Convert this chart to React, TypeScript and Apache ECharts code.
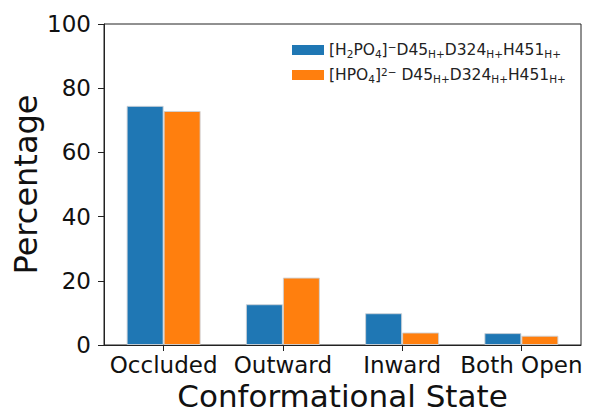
import React, { useEffect, useRef } from "react";
import * as echarts from "echarts";

const categories = ["Occluded", "Outward", "Inward", "Both Open"];
const seriesNames = ["H2PO4", "HPO4"];
const h2po4Values = [74.5, 12.7, 9.9, 3.7];
const hpo4Values = [72.9, 21.0, 3.9, 2.9];
const yTicks = { min: 0, max: 100, interval: 20 };

const legendLabels: Record<string, string> = {
  H2PO4: "[H{sub|2}PO{sub|4}]{sup|−}D45{sub|H+}D324{sub|H+}H451{sub|H+}",
  HPO4: "[HPO{sub|4}]{sup|2−} D45{sub|H+}D324{sub|H+}H451{sub|H+}",
};

const FONT = "DejaVu Sans";

export default function App() {
  const ref = useRef<HTMLDivElement>(null);
  useEffect(() => {
    if (!ref.current) return;
    const chart = echarts.init(ref.current, undefined, { renderer: "svg" });
    const barStyle = (color: string) => ({
      color,
      borderColor: "rgba(205,210,215,0.9)",
      borderWidth: 1,
    });
    chart.setOption({
      animation: false,
      textStyle: { fontFamily: FONT },
      grid: {
        left: 104,
        right: 9,
        top: 24,
        bottom: 67,
        containLabel: false,
        outerBoundsMode: "none",
        show: true,
        borderColor: "#222",
        borderWidth: 1,
        backgroundColor: "transparent",
      },
      legend: {
        orient: "vertical",
        left: 287,
        top: 36,
        itemWidth: 32,
        itemHeight: 10,
        itemGap: 7,
        itemStyle: { borderWidth: 0 },
        icon: "rect",
        data: seriesNames,
        formatter: (name: string) => legendLabels[name],
        textStyle: {
          fontFamily: FONT,
          fontSize: 15.5,
          color: "#222",
          lineHeight: 18,
          rich: {
            sub: { fontSize: 10.5, fontFamily: FONT, color: "#222", verticalAlign: "bottom", lineHeight: 18 },
            sup: { fontSize: 10.5, fontFamily: FONT, color: "#222", verticalAlign: "top", lineHeight: 18 },
          },
        },
      },
      xAxis: {
        type: "category",
        data: categories,
        axisLine: { show: true, lineStyle: { color: "#222", width: 1 } },
        axisTick: { show: true, alignWithLabel: true, length: 6, lineStyle: { color: "#222" } },
        axisLabel: { fontSize: 23, color: "#111", margin: 8, fontFamily: FONT, interval: 0 },
        name: "Conformational State",
        nameLocation: "middle",
        nameGap: 39,
        nameMoveOverlap: false,
        nameTextStyle: { fontSize: 31, lineHeight: 24, color: "#111", fontFamily: FONT },
      },
      yAxis: {
        type: "value",
        min: yTicks.min,
        max: yTicks.max,
        interval: yTicks.interval,
        splitLine: { show: false },
        axisLine: { show: true, lineStyle: { color: "#222", width: 1 } },
        axisTick: { show: true, length: 6, lineStyle: { color: "#222" } },
        axisLabel: { fontSize: 23, color: "#111", margin: 13, fontFamily: FONT },
        name: "Percentage",
        nameLocation: "middle",
        nameGap: 62,
        nameMoveOverlap: false,
        nameRotate: 90,
        nameTextStyle: { fontSize: 32, lineHeight: 32, color: "#111", fontFamily: FONT },
      },
      series: [
        {
          name: seriesNames[0],
          type: "bar",
          data: h2po4Values,
          barWidth: 37,
          barGap: "0%",
          itemStyle: barStyle("#1f77b4"),
        },
        {
          name: seriesNames[1],
          type: "bar",
          data: hpo4Values,
          barWidth: 37,
          barGap: "0%",
          itemStyle: barStyle("#ff7f0e"),
        },
      ],
    });
    return () => chart.dispose();
  }, []);
  return <div ref={ref} style={{ width: 590, height: 412, position: "absolute", left: 0, top: 0 }} />;
}
